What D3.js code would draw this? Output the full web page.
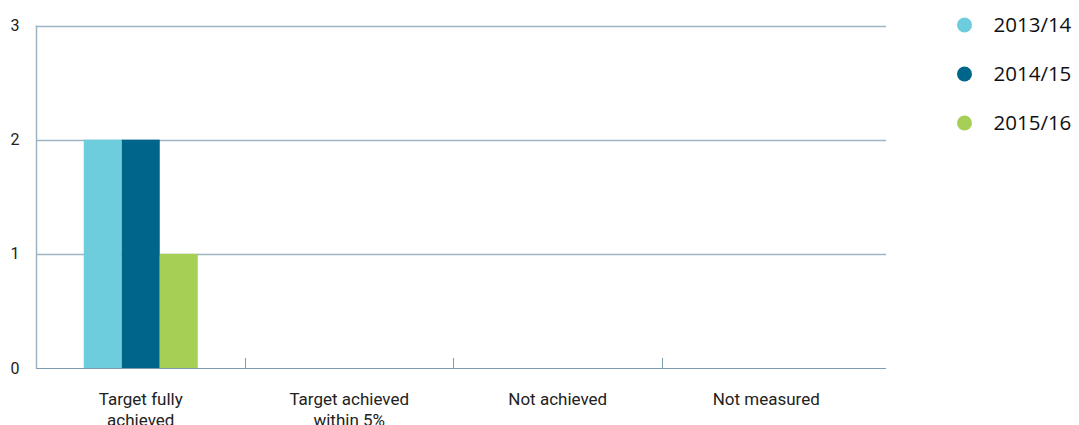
<!DOCTYPE html>
<html><head><meta charset="utf-8">
<script src="https://cdn.jsdelivr.net/npm/d3@7"></script>
<style>body{margin:0;background:#fff}svg{display:block}</style>
</head><body>
<svg id="c" width="1079" height="425"></svg>
<script>
const categories = [["Target fully","achieved"],["Target achieved","within 5%"],["Not achieved"],["Not measured"]];
const seriesNames = ["2013/14","2014/15","2015/16"];
const s2013 = [2,0,0,0];
const s2014 = [2,0,0,0];
const s2015 = [1,0,0,0];
const seriesValues = [s2013,s2014,s2015];
const yTicks = [0,1,2,3];
const colors = ["#6dcddc","#00658b","#a5cf55"];

const svg = d3.select("#c");
const font = "'Open Sans', sans-serif";
const axisFont = "Roboto, sans-serif";
const x = d3.scaleBand().domain(d3.range(categories.length)).range([36.5,870.5]);
const xs = d3.scaleBand().domain(d3.range(seriesNames.length)).range([0,114]);
const y = d3.scaleLinear().domain([0,3]).range([368,25.5]);

// gridlines
svg.append("g").selectAll("line").data(yTicks).join("line")
  .attr("x1",36).attr("x2",886).attr("y1",d=>Math.round(y(d))+0.5).attr("y2",d=>Math.round(y(d))+0.5)
  .attr("stroke",d=>d===0?"#7f9bb0":"#9fb4c3").attr("stroke-width",d=>d===0?1:1.5);
// y axis line
svg.append("line").attr("x1",36.5).attr("x2",36.5).attr("y1",y(3)).attr("y2",y(0)+0.5).attr("stroke","#9fb4c3").attr("stroke-width",1.5);
// y labels
svg.append("g").selectAll("text").data(yTicks).join("text")
  .attr("x",15).attr("y",d=>y(d)).attr("dy","0.35em").attr("text-anchor","middle")
  .attr("font-family",axisFont).attr("font-size",16).attr("fill","#222").text(d=>d);
// category tick marks
svg.append("g").selectAll("line").data(d3.range(1,categories.length)).join("line")
  .attr("x1",d=>Math.round(x(d)-0.5)+0.5).attr("x2",d=>Math.round(x(d)-0.5)+0.5)
  .attr("y1",358).attr("y2",368).attr("stroke","#7f9bb0").attr("stroke-width",1);
// bars
const groups = svg.append("g").selectAll("g").data(d3.range(categories.length)).join("g")
  .attr("transform",i=>`translate(${x(i)+x.bandwidth()/2-57},0)`);
groups.selectAll("rect").data(i=>seriesValues.map((s,k)=>({k,v:s[i]}))).join("rect")
  .attr("x",d=>xs(d.k)).attr("width",xs.bandwidth())
  .attr("y",d=>y(d.v)).attr("height",d=>y(0)-y(d.v)).attr("fill",d=>colors[d.k]);
// category labels
const cl = svg.append("g").selectAll("text").data(categories).join("text")
  .attr("x",(d,i)=>x(i)+x.bandwidth()/2).attr("y",405).attr("text-anchor","middle")
  .attr("font-family",axisFont).attr("font-size",17).attr("fill","#222");
cl.selectAll("tspan").data(d=>d).join("tspan")
  .attr("x",function(){return this.parentNode.getAttribute("x");})
  .attr("dy",(d,j)=>j===0?0:21).text(d=>d);
// legend
const lg = svg.append("g").selectAll("g").data(seriesNames).join("g")
  .attr("transform",(d,i)=>`translate(964.5,${25+i*49})`);
lg.append("circle").attr("r",7.5).attr("fill",(d,i)=>colors[i]);
lg.append("text").attr("x",29).attr("dy","0.36em").attr("font-family",font).attr("font-size",20.5).attr("fill","#111").text(d=>d);
</script>
</body></html>
